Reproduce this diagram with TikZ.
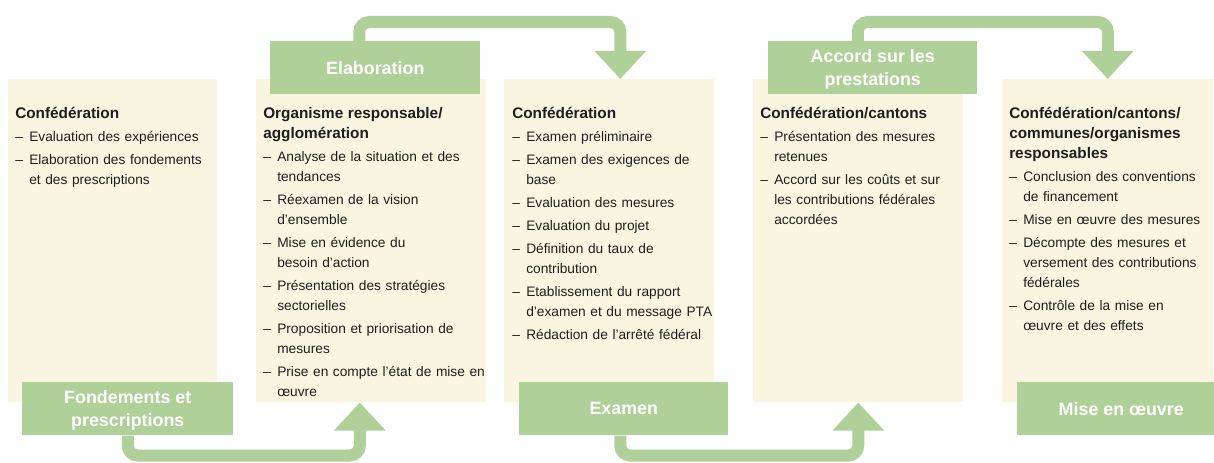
\documentclass[tikz,border=0pt]{standalone}
\usepackage{fontspec}
\setmainfont{Liberation Sans}
\usepackage{xcolor}
\usetikzlibrary{arrows.meta, positioning}
\definecolor{boxgreen}{RGB}{175,208,153}
\definecolor{panelbeige}{RGB}{250,245,224}
\definecolor{txtgray}{RGB}{30,30,30}
\newcommand{\pitem}[1]{\par\vspace{2.25pt}\hangindent=10.5pt\hangafter=1\noindent\makebox[10.5pt][l]{--}#1}
\newcommand{\phead}[1]{{\fontsize{11.5}{15}\selectfont\bfseries #1}}

\begin{document}
\begin{tikzpicture}[x=0.75pt, y=-0.75pt,
  panel/.style={fill=panelbeige, inner sep=0pt, anchor=north west, minimum height=242.25pt},
  stage/.style={fill=boxgreen, text=white, inner sep=0pt, anchor=north west, minimum height=39.75pt,
    text depth=0pt, align=center, font=\fontsize{13.4}{17.25}\selectfont\bfseries},
  ptext/.style={inner sep=0pt, anchor=base west, align=left, text=txtgray, font=\fontsize{10.3}{15}\selectfont},
  flow/.style={draw=boxgreen, line width=9pt, rounded corners=7.5pt, -{Triangle[width=37.5pt, length=21pt]}}]
\clip (0,0) rectangle (1214,463);
% Panels
\node[panel, minimum width=156.75pt] (p1) at (8,79) {};
\node[panel, minimum width=172.5pt] (p2) at (256,79) {};
\node[panel, minimum width=157.5pt] (p3) at (504,79) {};
\node[panel, minimum width=157.5pt] (p4) at (753,79) {};
\node[panel, minimum width=158.25pt] (p5) at (1002,79) {};
% Panel texts
\node[ptext, text width=160pt] (t1) at (15,118.5) {\phead{Confédération}
  \pitem{Evaluation des expériences}
  \pitem{Elaboration des fondements\newline et des prescriptions}\par};
\node[ptext, text width=180pt] (t2) at (263,118.5) {\phead{Organisme responsable/\newline agglomération}
  \pitem{Analyse de la situation et des\newline tendances}
  \pitem{Réexamen de la vision\newline d'ensemble}
  \pitem{Mise en évidence du\newline besoin d'action}
  \pitem{Présentation des stratégies\newline sectorielles}
  \pitem{Proposition et priorisation de\newline mesures}
  \pitem{Prise en compte l'état de mise en\newline œuvre}\par};
\node[ptext, text width=160pt] (t3) at (512,118.5) {\phead{Confédération}
  \pitem{Examen préliminaire}
  \pitem{Examen des exigences de\newline base}
  \pitem{Evaluation des mesures}
  \pitem{Evaluation du projet}
  \pitem{Définition du taux de\newline contribution}
  \pitem{Etablissement du rapport\newline d'examen et du message PTA}
  \pitem{Rédaction de l'arrêté fédéral}\par};
\node[ptext, text width=160pt] (t4) at (760,118.5) {\phead{Confédération/cantons}
  \pitem{Présentation des mesures\newline retenues}
  \pitem{Accord sur les coûts et sur\newline les contributions fédérales\newline accordées}\par};
\node[ptext, text width=160pt] (t5) at (1009,118.5) {\phead{Confédération/cantons/\newline communes/organismes\newline responsables}
  \pitem{Conclusion des conventions\newline de financement}
  \pitem{Mise en œuvre des mesures}
  \pitem{Décompte des mesures et\newline versement des contributions\newline fédérales}
  \pitem{Contrôle de la mise en\newline œuvre et des effets}\par};
% Stages
\node[stage, minimum width=158.25pt] (fond) at (22,382) {Fondements et\\prescriptions};
\node[stage, minimum width=157.5pt] (elab) at (270,41) {Elaboration};
\node[stage, minimum width=156.75pt] (exam) at (519,382) {Examen};
\node[stage, minimum width=156.75pt] (accord) at (768,41) {Accord sur les\\prestations};
\node[stage, minimum width=156pt] (mise) at (1017,382) {Mise en œuvre};
% Flow arrows
\draw[flow] (fond.south) -- ++(0,20) -| ([xshift=-8.6pt]p2.south);
\draw[flow] ([xshift=-12pt]elab.north) -- ++(0,-19) -| ([xshift=8.25pt]p3.north);
\draw[flow] ([xshift=-2.6pt]exam.south) -- ++(0,20) -| (p4.south);
\draw[flow] ([xshift=-11.25pt]accord.north) -- ++(0,-19) -| (p5.north);
\end{tikzpicture}
\end{document}
